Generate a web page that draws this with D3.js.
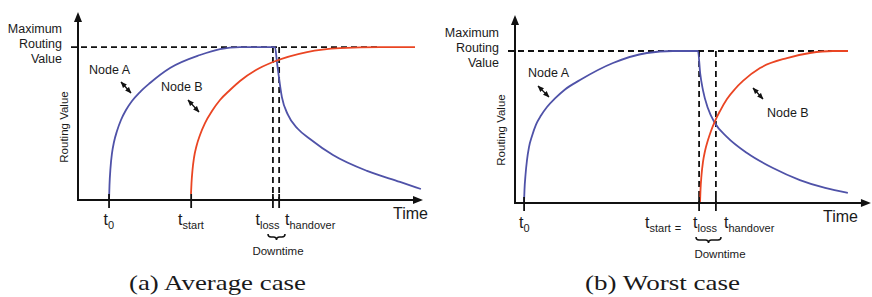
<!DOCTYPE html>
<html><head><meta charset="utf-8">
<script src="https://cdn.jsdelivr.net/npm/d3@7"></script>
<style>
html,body{margin:0;padding:0;background:#fff;}
svg{display:block;}
text{font-family:"Liberation Sans",Arial,sans-serif;fill:#1a1a1a;}
</style></head>
<body>
<svg id="chart" width="872" height="297"></svg>
<script>
// ---------- data (time 0-100, routing value 0-100 = maximum) ----------
const tickLabels = ["0", "start", "loss", "handover"];
const ticksA = [9.0, 32.8, 56.5, 58.3];
const ticksB = [2.6, 52.6, 57.4];
const nodeA_avg = [[8.99,0],[9.13,9.8],[9.42,20.9],[9.86,30.7],[10.43,37.9],[11.30,45.1],[12.46,52.3],[13.91,58.8],[15.65,64.7],[17.97,70.6],[20.87,76.5],[26.67,86.3],[35.36,94.8],[41.16,98.7],[46.96,100],[57.1,100],[57.7,89.5],[59.1,67.3],[60.87,55.6],[63.77,46.4],[67.25,39.9],[73.91,29.4],[83.77,19.0],[93.33,11.8],[99.4,7.2]];
const nodeB_avg = [[32.75,3.9],[32.90,11.1],[33.19,19.6],[33.62,27.5],[34.35,35.3],[35.36,42.5],[36.81,50.3],[38.84,58.2],[41.16,65.4],[44.06,71.9],[46.96,77.8],[51.59,85.0],[56.52,90.2],[66.38,96.7],[75.94,99.3],[87.54,100],[97.68,100]];
const nodeA_worst = [[2.57,0],[2.71,8.6],[3.0,18.4],[3.43,28.3],[4.0,36.8],[4.86,44.1],[6.0,51.6],[7.43,57.6],[9.14,63.2],[11.43,68.8],[14.29,74.7],[18.57,80.9],[28.0,92.1],[37.7,98.7],[45.1,100],[52.3,100],[52.9,85.5],[53.7,74.3],[55.1,62.5],[57.1,52.6],[60.6,43.4],[66.3,32.9],[73.7,23.0],[81.4,15.1],[88.6,9.9],[95.1,6.6]];
const nodeB_worst = [[52.86,0],[53.0,8.6],[53.29,18.4],[53.71,27.0],[54.29,34.2],[55.14,41.4],[56.0,47.4],[57.14,53.9],[58.57,60.5],[60.57,68.4],[62.86,75.0],[65.14,80.3],[70.0,88.8],[77.71,95.4],[84.29,98.7],[90.86,100],[95.14,100]];
const maxValue = 100;
const maxLineEnd = [87, 90.6];
const axisEnd = [100, 101.7];
const captions = ["(a) Average case", "(b) Worst case"];

const blue = "#4f52a8", red = "#ea4523", ink = "#111";
const svg = d3.select("#chart");

svg.append("defs").append("marker")
  .attr("id","ah").attr("viewBox","0 0 10 10").attr("refX",9).attr("refY",5)
  .attr("markerWidth",5).attr("markerHeight",5).attr("orient","auto-start-reverse")
  .append("path").attr("d","M0,1 L10,5 L0,9 Z").attr("fill",ink);

function panel(cfg){
  const x = d3.scaleLinear().domain([0,100]).range(cfg.xr);
  const y = d3.scaleLinear().domain([0,cfg.yTop]).range(cfg.yr);
  const g = svg.append("g");
  const line = d3.line().x(d=>x(d[0])).y(d=>y(d[1])).curve(d3.curveMonotoneX);

  // dashed max line
  g.append("line").attr("x1",x(0)-7).attr("x2",x(cfg.maxEnd))
    .attr("y1",y(maxValue)).attr("y2",y(maxValue))
    .attr("stroke",ink).attr("stroke-width",1.8).attr("stroke-dasharray","6,4");
  // dashed verticals
  cfg.ticks.slice(cfg.dashFrom).forEach(t=>{
    g.append("line").attr("x1",x(t)).attr("x2",x(t)).attr("y1",y(maxValue)).attr("y2",y(0))
      .attr("stroke",ink).attr("stroke-width",1.8).attr("stroke-dasharray","6,4");
  });
  // curves
  g.append("path").attr("d",line(cfg.a)).attr("fill","none").attr("stroke",blue).attr("stroke-width",1.8);
  g.append("path").attr("d",line(cfg.b)).attr("fill","none").attr("stroke",red).attr("stroke-width",1.8);

  // axes
  g.append("line").attr("x1",x(0)).attr("x2",x(0)).attr("y1",y(0)+1).attr("y2",y(cfg.yTop)+9)
    .attr("stroke",ink).attr("stroke-width",2);
  g.append("path").attr("d",`M${x(0)},${y(cfg.yTop)} L${x(0)-4},${y(cfg.yTop)+10} L${x(0)+4},${y(cfg.yTop)+10} Z`).attr("fill",ink);
  g.append("line").attr("x1",x(0)-1).attr("x2",x(cfg.axEnd)-9).attr("y1",y(0)).attr("y2",y(0))
    .attr("stroke",ink).attr("stroke-width",2);
  g.append("path").attr("d",`M${x(cfg.axEnd)},${y(0)} L${x(cfg.axEnd)-10},${y(0)-4} L${x(cfg.axEnd)-10},${y(0)+4} Z`).attr("fill",ink);
  // ticks
  cfg.ticks.forEach(t=>{
    g.append("line").attr("x1",x(t)).attr("x2",x(t)).attr("y1",y(0)-6).attr("y2",y(0)+8)
      .attr("stroke",ink).attr("stroke-width",1.8);
  });
  // tick labels
  cfg.labels.forEach(l=>{
    const tx = g.append("text").attr("x",l.x).attr("y",y(0)+25).attr("font-size",16);
    tx.append("tspan").text("t");
    tx.append("tspan").attr("font-size",11).attr("dy",4).text(l.sub);
    if(l.post) tx.append("tspan").attr("font-size",11).attr("dx",4).text(l.post);
  });
  // Time
  g.append("text").attr("x",cfg.timeX).attr("y",y(0)+19).attr("font-size",16).text("Time");
  // y labels
  ["Maximum","Routing","Value"].forEach((s,i)=>{
    g.append("text").attr("x",x(0)-16).attr("y",y(maxValue)-14+i*15).attr("text-anchor","end")
      .attr("font-size",12.5).text(s);
  });
  g.append("text").attr("transform",`translate(${x(0)-10},${cfg.rvY}) rotate(-90)`)
    .attr("text-anchor","middle").attr("font-size",11.5).text("Routing Value");
  // node labels and arrows
  cfg.nodes.forEach(n=>{
    g.append("text").attr("x",n.tx).attr("y",n.ty).attr("font-size",12.5).text(n.name);
    g.append("line").attr("x1",n.ax1).attr("y1",n.ay1).attr("x2",n.ax2).attr("y2",n.ay2)
      .attr("stroke",ink).attr("stroke-width",1.3)
      .attr("marker-start","url(#ah)").attr("marker-end","url(#ah)");
  });
  // brace
  const b1 = cfg.brace[0], b2 = cfg.brace[1], by = y(0)+34, m=(b1+b2)/2;
  g.append("path").attr("d",
    `M${b1},${by} Q${b1},${by+3} ${b1+3},${by+3} L${m-3},${by+3} Q${m},${by+3} ${m},${by+6} Q${m},${by+3} ${m+3},${by+3} L${b2-3},${by+3} Q${b2},${by+3} ${b2},${by}`)
    .attr("fill","none").attr("stroke",ink).attr("stroke-width",1.5);
  g.append("text").attr("x",cfg.dtX).attr("y",y(0)+55).attr("text-anchor","middle")
    .attr("font-size",11.5).text("Downtime");
  // caption
  g.append("text").attr("x",cfg.capX).attr("y",290).attr("text-anchor","middle")
    .style("font-family","'Liberation Serif','Times New Roman',serif").attr("font-size",21)
    .attr("textLength",cfg.capW).attr("lengthAdjust","spacingAndGlyphs").text(cfg.caption);
}

panel({xr:[78,423], yr:[200,12], yTop:122.9, a:nodeA_avg, b:nodeB_avg, ticks:ticksA, dashFrom:2,
  maxEnd:maxLineEnd[0], axEnd:axisEnd[0], rvY:127, timeX:393,
  labels:[{x:103.5,sub:tickLabels[0]},{x:178,sub:tickLabels[1]},{x:255.5,sub:tickLabels[2]},{x:285,sub:tickLabels[3]}],
  nodes:[{name:"Node A",tx:89,ty:74,ax1:121,ay1:82,ax2:131,ay2:93},{name:"Node B",tx:161,ty:91,ax1:188,ay1:100,ax2:199,ay2:112}],
  brace:[268,285], dtX:278, capX:217.5, capW:177, caption:captions[0]});

panel({xr:[515,865], yr:[203,15], yTop:123.7, a:nodeA_worst, b:nodeB_worst, ticks:ticksB, dashFrom:1,
  maxEnd:maxLineEnd[1], axEnd:axisEnd[1], rvY:130, timeX:823,
  labels:[{x:519,sub:tickLabels[0]},{x:645,sub:tickLabels[1],post:"="},{x:693,sub:tickLabels[2]},{x:724,sub:tickLabels[3]}],
  nodes:[{name:"Node A",tx:528,ty:77,ax1:538,ay1:86,ax2:549,ay2:97},{name:"Node B",tx:767,ty:117,ax1:753,ay1:88,ax2:763,ay2:99}],
  brace:[696,721], dtX:720, capX:662.5, capW:155, caption:captions[1]});
</script>
</body></html>
